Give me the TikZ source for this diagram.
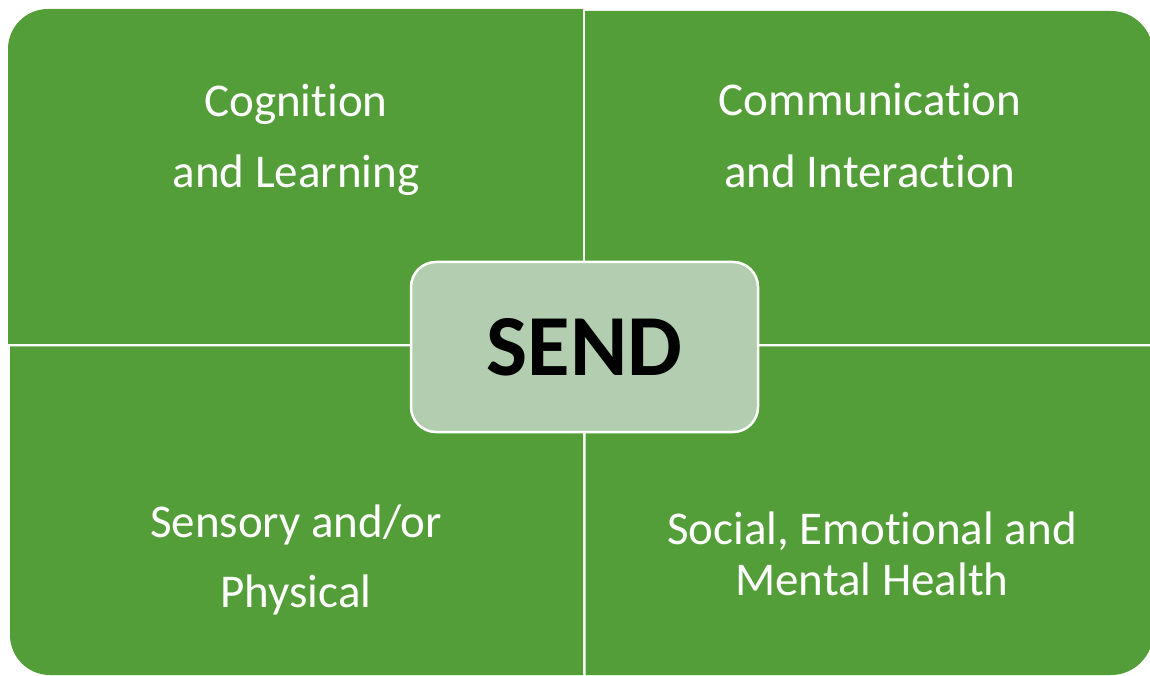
\documentclass[tikz,border=0pt]{standalone}
\usepackage{fontspec}
\setmainfont{Carlito}[Ligatures=NoCommon]
\definecolor{quadgreen}{RGB}{84,158,57}
\definecolor{sendgreen}{RGB}{179,205,176}
\begin{document}
\begin{tikzpicture}[x=1pt,y=1pt,
    quad/.style={fill=quadgreen},
    quadtext/.style={text=white,align=center,inner sep=0pt},
    sendbox/.style={draw=white,line width=2.5pt,fill=sendgreen,rounded corners=25pt,
        minimum width=347pt,minimum height=170pt,inner sep=0pt,
        font=\fontsize{87}{90}\selectfont\bfseries}]
    \useasboundingbox (0,0) rectangle (1150,675);
    \fill[quad] (583,331) -- (8,331) -- (8,626)
        arc[start angle=180,end angle=90,radius=40pt] -- (583,666) -- cycle;
    \fill[quad] (585,331) -- (585,664) -- (1111,664)
        arc[start angle=90,end angle=0,radius=42pt] -- (1153,331) -- cycle;
    \fill[quad] (583,328.5) -- (10,328.5) -- (10,40)
        arc[start angle=180,end angle=270,radius=40pt] -- (583,0) -- cycle;
    \fill[quad] (585.5,328.5) -- (585.5,0) -- (1111,0)
        arc[start angle=270,end angle=360,radius=42pt] -- (1153,328.5) -- cycle;
    \node[quadtext,font=\fontsize{47}{71}\selectfont] (cog) at (296,535)
        {Cognition\\and Learning};
    \node[quadtext,font=\fontsize{47}{72}\selectfont] (comm) at (870,539.5)
        {Communication\\and Interaction};
    \node[quadtext,font=\fontsize{47}{70}\selectfont] (sens) at (296,115)
        {Sensory and/or\\Physical};
    \node[quadtext,font=\fontsize{47}{51}\selectfont] (semh) at (872,121.5)
        {Social, Emotional and\\Mental Health};
    \node[sendbox] (send) at (584.5,328) {SEND};
\end{tikzpicture}
\end{document}
